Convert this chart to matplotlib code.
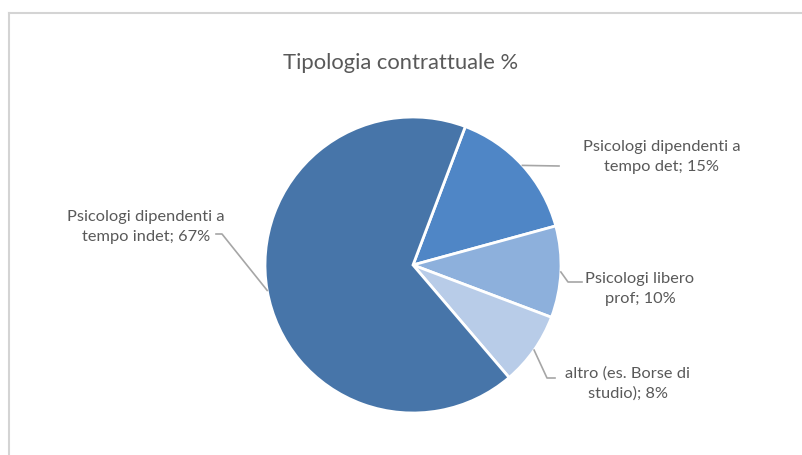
import numpy as np
import matplotlib.pyplot as plt
from matplotlib.lines import Line2D

plt.rcParams['font.family'] = ['Lato', 'DejaVu Sans']

# data
labels = ["Psicologi dipendenti a\ntempo det; 15%",
          "Psicologi libero\nprof; 10%",
          "altro (es. Borse di\nstudio); 8%",
          "Psicologi dipendenti a\ntempo indet; 67%"]
values = [15, 10, 8, 67]
colors = ["#4F86C6", "#8DB0DC", "#B8CCE8", "#4775A9"]

W, H = 803, 455
cx, cy, R = 413, 265, 148  # pie centre/radius in pixels (from top)

fig = plt.figure(figsize=(W / 100, H / 100), dpi=100)
ax = fig.add_axes([(cx - R) / W, (H - cy - R) / H, 2 * R / W, 2 * R / H])

wedges, _ = ax.pie(values, colors=colors, startangle=69.3, counterclock=False,
                   radius=1, wedgeprops=dict(edgecolor="white", linewidth=2))
ax.set_xlim(-1, 1)
ax.set_ylim(-1, 1)
ax.set_aspect("equal")
ax.axis("off")

def px(x, y):
    return (x - cx) / R, (cy - y) / R

# label positions and leader elbows (pixels)
text_pos = [(662, 157), (640, 289), (628, 384), (146, 227)]
elbows = [[(559, 166)],
          [(568, 282), (582, 282)],
          [(547, 378), (555, 378)],
          [(222, 234), (216, 234)]]

for w, lab, tp, el in zip(wedges, labels, text_pos, elbows):
    mid = np.deg2rad((w.theta1 + w.theta2) / 2)
    pts = [(np.cos(mid), np.sin(mid))] + [px(*p) for p in el]
    xs, ys = zip(*pts)
    ax.plot(xs, ys, color="#A6A6A6", lw=1.2, clip_on=False)
    tx, ty = px(*tp)
    ax.text(tx, ty, lab, ha="center", va="center", fontsize=11.8,
            color="#595959", linespacing=1.5, clip_on=False)

fig.text(401 / W, 1 - 63 / H, "Tipologia contrattuale %", ha="center", va="center",
         fontsize=15.8, color="#595959")

# chart border (top and left only visible)
fig.add_artist(Line2D([9 / W, 1], [1 - 13 / H, 1 - 13 / H], color="#D4D4D4", lw=1.5))
fig.add_artist(Line2D([9 / W, 9 / W], [0, 1 - 13 / H], color="#D4D4D4", lw=1.5))

fig.savefig("out.png", dpi=100)
